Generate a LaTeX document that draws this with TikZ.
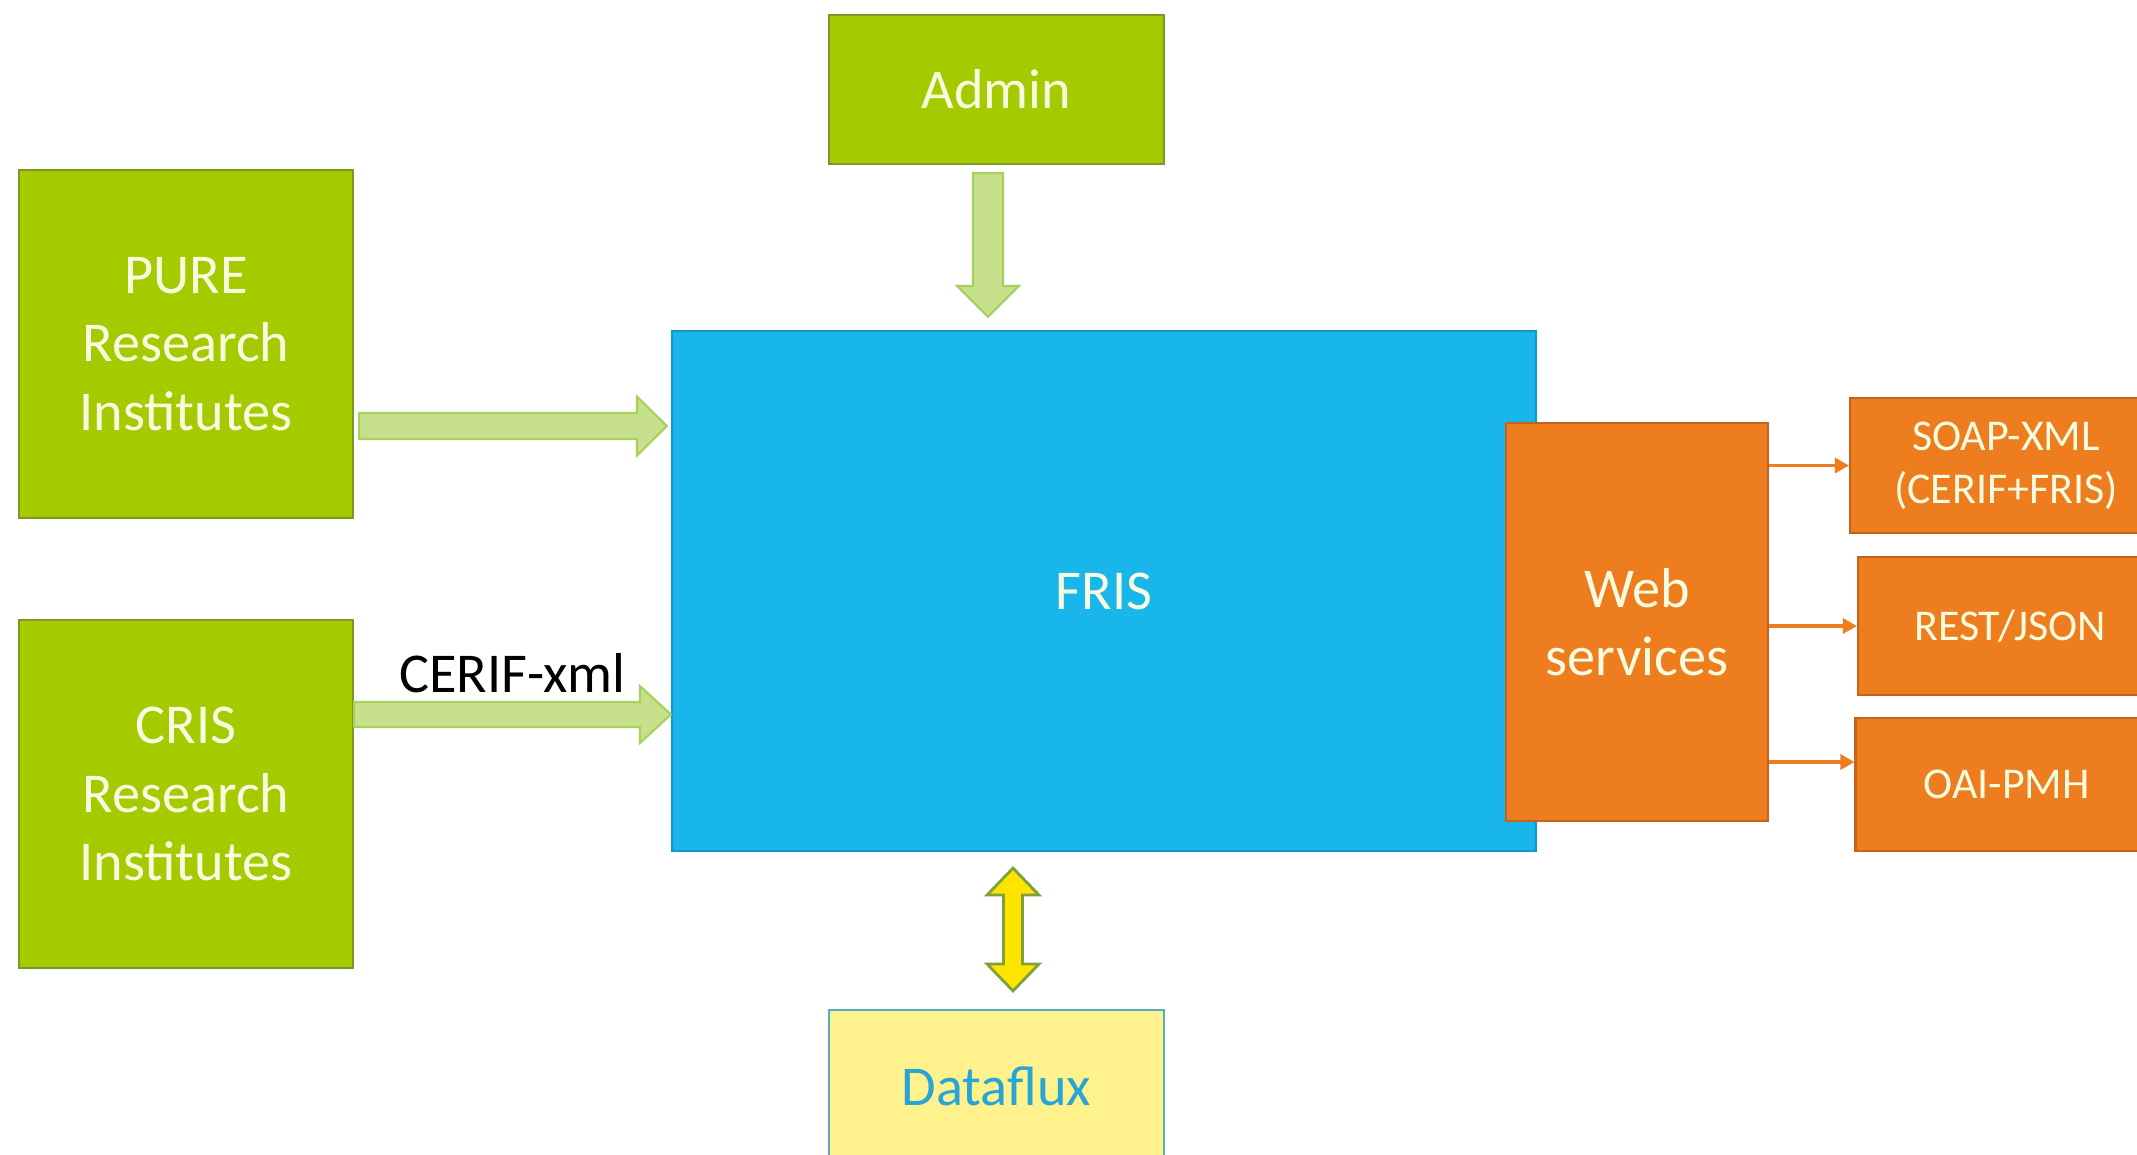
\documentclass[tikz,border=0pt]{standalone}
\usepackage{fontspec}
\setmainfont{Carlito}
\usepackage{xcolor}
\usepackage{tikz}
\usetikzlibrary{arrows.meta, calc}
\definecolor{limegreen}{RGB}{165,202,0}
\definecolor{limeedge}{RGB}{122,152,38}
\definecolor{paleflow}{RGB}{198,224,140}
\definecolor{paleedge}{RGB}{168,208,92}
\definecolor{frisblue}{RGB}{24,182,234}
\definecolor{frisedge}{RGB}{20,150,200}
\definecolor{wsorange}{RGB}{237,125,30}
\definecolor{wsedge}{RGB}{196,100,28}
\definecolor{fluxyellow}{RGB}{255,242,140}
\definecolor{fluxedge}{RGB}{84,172,200}
\definecolor{fluxtext}{RGB}{40,165,215}
\definecolor{swapyellow}{RGB}{255,228,0}
\definecolor{swapedge}{RGB}{128,160,60}
\definecolor{cream}{RGB}{248,252,222}

% block arrow: style, tail, tip, shaft half width, head half width, head length
\newcommand{\blockarrow}[6]{%
  \coordinate (ba-head) at ($(#3)!#6!(#2)$);
  \draw[#1] ($(#2)!#4!90:(#3)$) -- ($(ba-head)!#4!90:(#3)$) -- ($(ba-head)!#5!90:(#3)$) -- (#3)
    -- ($(ba-head)!#5!-90:(#3)$) -- ($(ba-head)!#4!-90:(#3)$) -- ($(#2)!#4!-90:(#3)$) -- cycle;}
% double block arrow: style, end a, end b, shaft half width, head half width, head length
\newcommand{\doublearrow}[6]{%
  \coordinate (da-a) at ($(#2)!#6!(#3)$);
  \coordinate (da-b) at ($(#3)!#6!(#2)$);
  \draw[#1] (#2) -- ($(da-a)!#5!90:(#3)$) -- ($(da-a)!#4!90:(#3)$) -- ($(da-b)!#4!90:(#3)$)
    -- ($(da-b)!#5!90:(#3)$) -- (#3) -- ($(da-b)!#5!-90:(#3)$) -- ($(da-b)!#4!-90:(#3)$)
    -- ($(da-a)!#4!-90:(#3)$) -- ($(da-a)!#5!-90:(#3)$) -- cycle;}

\begin{document}
\begin{tikzpicture}[
    box/.style={rectangle, draw, line width=0.6pt, inner sep=2pt, align=center, text=cream, font=\fontsize{16}{19.5}\selectfont},
    srcbox/.style={box, fill=limegreen, draw=limeedge, minimum width=3.34cm, minimum height=3.48cm},
    corebox/.style={box, fill=frisblue, draw=frisedge, minimum width=8.64cm, minimum height=5.2cm},
    wsbox/.style={box, fill=wsorange, draw=wsedge, minimum width=2.62cm, minimum height=3.98cm},
    wsout/.style={box, fill=wsorange, draw=wsedge, font=\fontsize{12.5}{15}\selectfont},
    fluxbox/.style={box, fill=fluxyellow, draw=fluxedge, text=fluxtext, minimum width=3.35cm, minimum height=1.52cm},
    flow/.style={fill=paleflow, draw=paleedge, line width=0.6pt},
    swap/.style={fill=swapyellow, draw=swapedge, line width=0.8pt},
    wsarrow/.style={draw=wsorange, line width=0.9pt, -{Triangle[length=0.14cm, width=0.15cm]}},
    lbl/.style={font=\fontsize{16}{19.5}\selectfont, text=black, inner sep=0pt}
]
\useasboundingbox (0,0) rectangle (21.37,-11.54);
\fill[white] (0,0) rectangle (21.37,-11.54);
\clip (0,0) rectangle (21.37,-11.54);

% Sources
\node[srcbox] (pure) at (1.86,-3.44) {PURE\\Research\\Institutes};
\node[srcbox] (cris) at (1.86,-7.94) {CRIS\\Research\\Institutes};
\node[srcbox, minimum width=3.35cm, minimum height=1.49cm] (admin) at (9.965,-0.895) {Admin};

% Core
\node[corebox] (fris) at (11.04,-5.91) {FRIS};
\node[wsbox] (web) at (16.37,-6.22) {Web\\services};

% Outputs
\node[wsout, minimum width=3.12cm, minimum height=1.35cm] (soap) at (20.06,-4.655) {SOAP-XML\\(CERIF+FRIS)};
\node[wsout, minimum width=3.04cm, minimum height=1.38cm] (rest) at (20.10,-6.26) {REST/JSON};
\node[wsout, minimum width=3.02cm, minimum height=1.33cm] (oai) at (20.065,-7.845) {OAI-PMH};

% Dataflux
\node[fluxbox] (data) at (9.965,-10.86) {Dataflux};

% Arrow ends
\coordinate (admin-out) at ($(admin.south)+(-0.085,-0.08)$);
\coordinate (admin-in) at ($(admin-out |- fris.north)+(0,0.13)$);
\coordinate (pure-out) at ($(pure.east)+(0.05,-0.82)$);
\coordinate (pure-in) at ($(fris.west |- pure-out)+(-0.04,0)$);
\coordinate (cris-out) at ($(cris.east)+(0,0.795)$);
\coordinate (cris-in) at (fris.west |- cris-out);
\coordinate (df-top) at ($(fris.south -| data.north)+(0.165,-0.16)$);
\coordinate (df-bot) at ($(data.north)+(0.165,0.18)$);

% Block arrows
\blockarrow{flow}{admin-out}{admin-in}{0.15cm}{0.31cm}{0.31cm}
\blockarrow{flow}{pure-out}{pure-in}{0.13cm}{0.295cm}{0.30cm}
\blockarrow{flow}{cris-out}{cris-in}{0.125cm}{0.285cm}{0.31cm}
\doublearrow{swap}{df-top}{df-bot}{0.095cm}{0.26cm}{0.27cm}
\node[lbl, anchor=base] (cerif) at ($(cris-out)!0.5!(cris-in)+(0,0.225)$) {CERIF-xml};

% Web service arrows
\draw[wsarrow] (web.east |- soap.west) -- (soap.west);
\draw[wsarrow] (web.east |- rest.west) -- (rest.west);
\draw[wsarrow] ($(web.east |- oai.west)+(0,0.225)$) -- ($(oai.west)+(0,0.225)$);

\end{tikzpicture}
\end{document}
